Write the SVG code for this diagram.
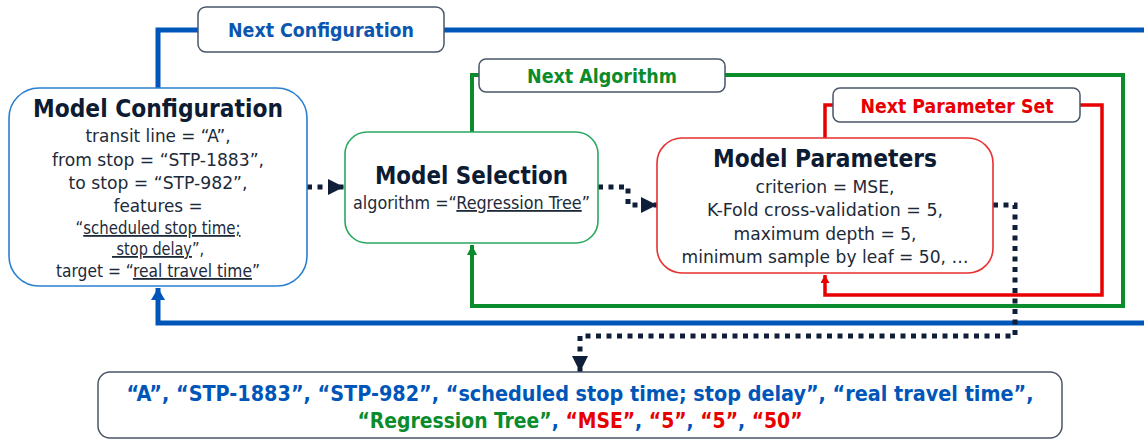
<svg xmlns="http://www.w3.org/2000/svg" width="1144" height="439" viewBox="0 0 1144 439">
<style>
text{font-family:"DejaVu Sans Condensed","DejaVu Sans","Liberation Sans",sans-serif;}
.title{font-size:24px;font-weight:bold;fill:#0d1b33;text-anchor:middle;}
.body{font-size:18px;fill:#1c2a3a;text-anchor:middle;}
.lbl{font-size:19px;font-weight:bold;text-anchor:middle;}
.res{font-size:21px;font-weight:bold;text-anchor:middle;}
.u{text-decoration:underline;}
.lblbox{fill:#fff;stroke:#4a5568;stroke-width:1.5;}
.dot{fill:none;stroke:#0f1f3a;stroke-width:5;stroke-dasharray:5 5.5;}
.blue{fill:none;stroke:#0056b8;stroke-width:5;}
.green{fill:none;stroke:#0a8c2c;stroke-width:4;}
.red{fill:none;stroke:#e80000;stroke-width:3.5;}
</style>
<defs>
<marker id="aNavy" markerUnits="userSpaceOnUse" markerWidth="18" markerHeight="16" refX="16" refY="8" orient="auto"><path d="M0,0 L16,8 L0,16 Z" fill="#0f1f3a"/></marker>
<marker id="aBlue" markerUnits="userSpaceOnUse" markerWidth="14" markerHeight="14" refX="12" refY="7" orient="auto"><path d="M0,0 L12,7 L0,14 Z" fill="#0056b8"/></marker>
<marker id="aGreen" markerUnits="userSpaceOnUse" markerWidth="12" markerHeight="12" refX="10" refY="5" orient="auto"><path d="M0,0 L10,5 L0,10 Z" fill="#0a8c2c"/></marker>
<marker id="aRed" markerUnits="userSpaceOnUse" markerWidth="10" markerHeight="10" refX="8" refY="4.5" orient="auto"><path d="M0,0 L8,4.5 L0,9 Z" fill="#e80000"/></marker>
</defs>
<rect width="1144" height="439" fill="#fff"/>
<g id="connectors">
<path class="blue" d="M158,88 V30 H1144"/>
<path class="blue" d="M1144,323 H158 V288" marker-end="url(#aBlue)"/>
<path class="green" d="M472,132 V75 H1123 V306 H472 V245" marker-end="url(#aGreen)"/>
<path class="red" d="M825,138 V105 H1102 V295 H825 V275" marker-end="url(#aRed)"/>
<path class="dot" d="M307,187 H344" marker-end="url(#aNavy)"/>
<path class="dot" d="M598,187 H628 V205 H657" marker-end="url(#aNavy)"/>
<path class="dot" d="M993,205 H1015 V336 H580 V372" marker-end="url(#aNavy)"/>
</g>
<g id="next-configuration">
<rect class="lblbox" x="198" y="7" width="246" height="45" rx="8"/>
<text class="lbl" x="321" y="37" fill="#0a56b0" textLength="186" lengthAdjust="spacingAndGlyphs">Next Configuration</text>
</g>
<g id="next-algorithm">
<rect class="lblbox" x="479" y="59" width="246" height="33" rx="7"/>
<text class="lbl" x="602" y="83" fill="#0a8c2c" textLength="150" lengthAdjust="spacingAndGlyphs">Next Algorithm</text>
</g>
<g id="next-parameter-set">
<rect class="lblbox" x="833" y="88" width="247" height="34" rx="7"/>
<text class="lbl" x="957" y="113" fill="#e80000" textLength="193" lengthAdjust="spacingAndGlyphs">Next Parameter Set</text>
</g>
<g id="model-configuration">
<rect x="9" y="88" width="298" height="198" rx="30" fill="#fff" stroke="#2a7fd0" stroke-width="1.6"/>
<text class="title" x="158" y="117" textLength="250" lengthAdjust="spacingAndGlyphs">Model Configuration</text>
<text class="body" x="158" y="142" textLength="145" lengthAdjust="spacingAndGlyphs">transit line = “A”,</text>
<text class="body" x="158" y="166" textLength="212" lengthAdjust="spacingAndGlyphs">from stop = “STP-1883”,</text>
<text class="body" x="158" y="189" textLength="179" lengthAdjust="spacingAndGlyphs">to stop = “STP-982”,</text>
<text class="body" x="158" y="212" textLength="89" lengthAdjust="spacingAndGlyphs">features =</text>
<text class="body" x="158" y="234" textLength="165" lengthAdjust="spacingAndGlyphs">“<tspan class="u">scheduled stop time;</tspan></text>
<text class="body" x="158" y="255" textLength="92" lengthAdjust="spacingAndGlyphs" xml:space="preserve"><tspan class="u"> stop delay</tspan>”,</text>
<text class="body" x="158" y="277" textLength="204" lengthAdjust="spacingAndGlyphs">target = “<tspan class="u">real travel time</tspan>”</text>
</g>
<g id="model-selection">
<rect x="345" y="132" width="253" height="111" rx="22" fill="#fff" stroke="#2aa860" stroke-width="1.6"/>
<text class="title" x="471.5" y="184" textLength="193" lengthAdjust="spacingAndGlyphs">Model Selection</text>
<text class="body" x="471.5" y="209" textLength="237" lengthAdjust="spacingAndGlyphs">algorithm =“<tspan class="u">Regression Tree</tspan>”</text>
</g>
<g id="model-parameters">
<rect x="657" y="138" width="336" height="135" rx="25" fill="#fff" stroke="#e83030" stroke-width="1.6"/>
<text class="title" x="825" y="167" textLength="224" lengthAdjust="spacingAndGlyphs">Model Parameters</text>
<text class="body" x="825" y="193" textLength="139" lengthAdjust="spacingAndGlyphs">criterion = MSE,</text>
<text class="body" x="825" y="216" textLength="236" lengthAdjust="spacingAndGlyphs">K-Fold cross-validation = 5,</text>
<text class="body" x="825" y="240" textLength="183" lengthAdjust="spacingAndGlyphs">maximum depth = 5,</text>
<text class="body" x="825" y="263" textLength="287" lengthAdjust="spacingAndGlyphs">minimum sample by leaf = 50, …</text>
</g>
<g id="result">
<rect x="98" y="372" width="964" height="66" rx="12" fill="#fff" stroke="#4a5568" stroke-width="1.5"/>
<text class="res" x="580" y="401" fill="#0056b8" textLength="907" lengthAdjust="spacingAndGlyphs">“A”, “STP-1883”, “STP-982”, “scheduled stop time; stop delay”, “real travel time”,</text>
<text class="res" x="580" y="428" textLength="445" lengthAdjust="spacingAndGlyphs"><tspan fill="#0a8c2c">“Regression Tree”</tspan><tspan fill="#0056b8">, </tspan><tspan fill="#e80000">“MSE”</tspan><tspan fill="#0056b8">, </tspan><tspan fill="#e80000">“5”</tspan><tspan fill="#0056b8">, </tspan><tspan fill="#e80000">“5”</tspan><tspan fill="#0056b8">, </tspan><tspan fill="#e80000">“50”</tspan></text>
</g>
</svg>
